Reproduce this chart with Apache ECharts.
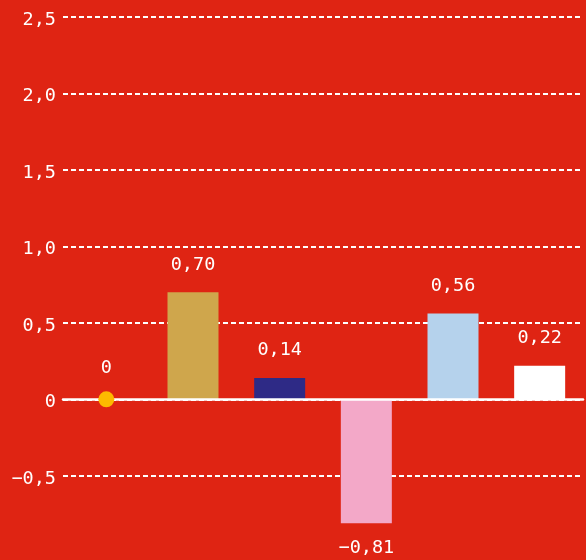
<!DOCTYPE html>
<html><head><meta charset="utf-8">
<script src="https://cdn.jsdelivr.net/npm/echarts@6/dist/echarts.min.js"></script>
<style>html,body{margin:0;padding:0;background:#DF2413;}#c{width:586px;height:560px;}</style>
</head><body><div id="c"></div>
<script>
const categories = ['A', 'B', 'C', 'D', 'E', 'F'];
const barValues = [null, 0.70, 0.14, -0.81, 0.56, 0.22];
const pointValues = [0, null, null, null, null, null];
const barColors = ['#CFA64C', '#CFA64C', '#2E2A86', '#F3A8C8', '#B5D2EC', '#FFFFFF'];
const yTicks = [-1.0, -0.5, 0, 0.5, 1.0, 1.5, 2.0, 2.5];

const FONT = '"DejaVu Sans Mono", monospace';
const FS = 18.5;
function fmtBar(v) {
  return (v < 0 ? '\u2212' : '') + Math.abs(v).toFixed(2).replace('.', ',');
}
function fmtAxis(v) {
  if (Math.abs(v) < 1e-9) return '0';
  if (Math.abs(v - yTicks[0]) < 1e-9) return '';
  return (v < 0 ? '\u2212' : '') + Math.abs(v).toFixed(1).replace('.', ',');
}

const chart = echarts.init(document.getElementById('c'));
chart.setOption({
  backgroundColor: '#DF2413',
  animation: false,
  grid: { left: 63, right: 3, top: 16.8, height: 535.5, containLabel: false },
  xAxis: {
    type: 'category', data: categories, z: 10,
    axisLine: { onZero: true, lineStyle: { color: '#FFFFFF', width: 2.5 } },
    axisTick: { show: false }, axisLabel: { show: false }, splitLine: { show: false }
  },
  yAxis: {
    type: 'value', min: yTicks[0], max: yTicks[yTicks.length - 1], interval: 0.5,
    axisLine: { show: false }, axisTick: { show: false },
    axisLabel: { color: '#FFFFFF', fontFamily: FONT, fontSize: FS, margin: 7, verticalAlign: 'top', lineHeight: 6, formatter: fmtAxis },
    splitLine: { lineStyle: { color: ['rgba(0,0,0,0)', '#FFFFFF', '#FFFFFF', '#FFFFFF', '#FFFFFF', '#FFFFFF', '#FFFFFF', '#FFFFFF'], width: 2, type: [5, 3] } }
  },
  series: [
    {
      type: 'bar', barWidth: 51, z: 2,
      data: barValues.map((v, i) => v === null ? '-' : {
        value: v, itemStyle: { color: barColors[i] },
        label: v < 0 ? { position: 'bottom', distance: 15 } : undefined
      }),
      label: {
        show: true, color: '#FFFFFF', fontFamily: FONT, fontSize: FS, distance: 18,
        position: 'top',
        formatter: p => fmtBar(p.value)
      }
    },
    {
      type: 'scatter', z: 20, symbolSize: 16,
      itemStyle: { color: '#FDB900', opacity: 1 },
      data: pointValues.map(v => v === null ? '-' : v),
      label: { show: true, position: 'top', distance: 14, color: '#FFFFFF', fontFamily: FONT, fontSize: FS, formatter: p => fmtAxis(p.value) }
    }
  ]
});
</script></body></html>
